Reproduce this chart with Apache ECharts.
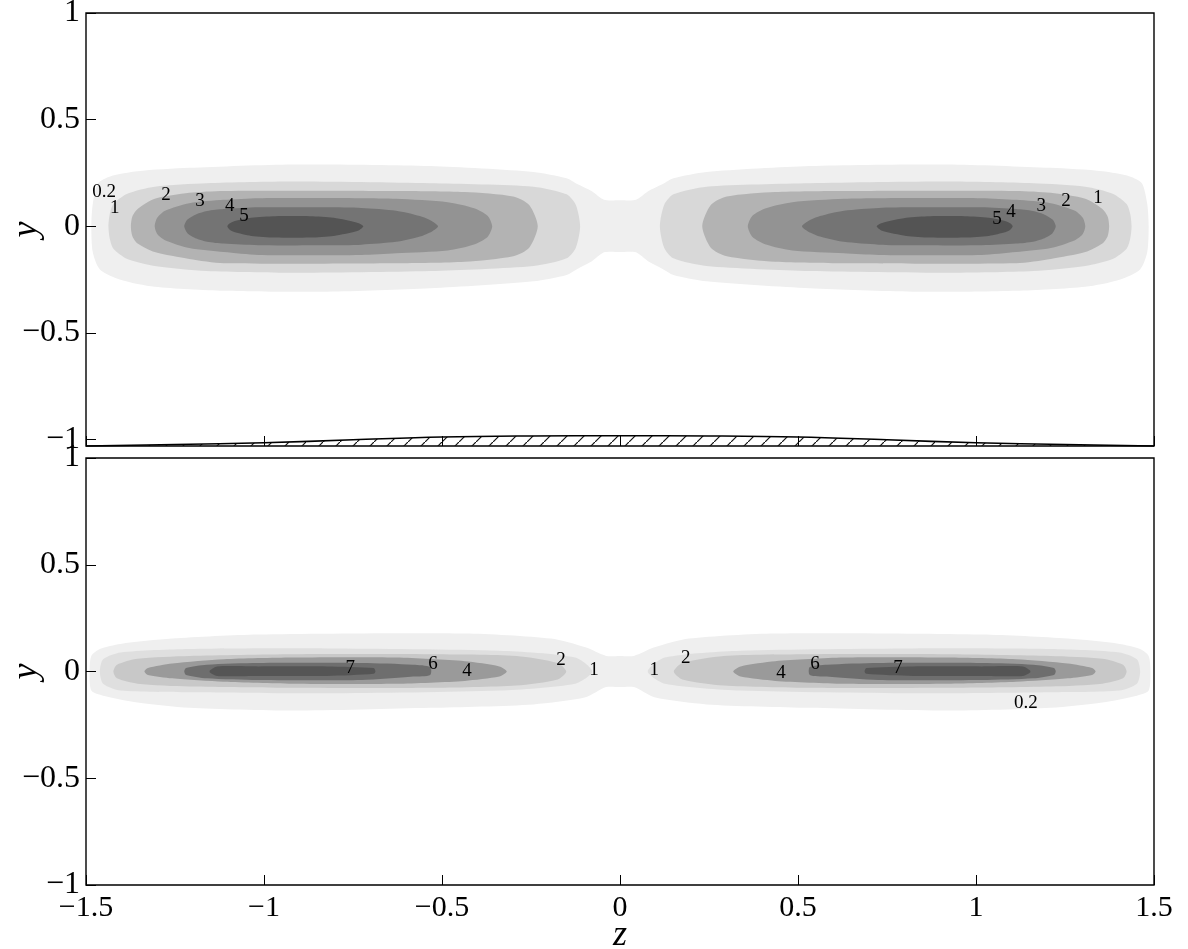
<!DOCTYPE html>
<html>
<head>
<meta charset="utf-8">
<script src="https://cdn.jsdelivr.net/npm/echarts@6/dist/echarts.min.js"></script>
<style>
  html, body { margin: 0; padding: 0; background: #fff; }
  #chart { width: 1188px; height: 949px; }
</style>
</head>
<body>
<div id="chart"></div>
<script>
// axes
const zTicks = [-1.5, -1, -0.5, 0, 0.5, 1, 1.5];
const yTicks = [-1, -0.5, 0, 0.5, 1];

// top panel: contour levels and fills; outlines of the left half [z, y] (picture is mirror symmetric in z)
const topLevels = ['0.2', '1', '2', '3', '4', '5'];
const topFills = ['#efefef', '#d8d8d8', '#b3b3b3', '#939393', '#747474', '#545454'];
const topUpper = [
  [[-1.485, 0], [-1.481, 0.105], [-1.466, 0.202], [-1.432, 0.234], [-1.355, 0.258], [-1.210, 0.274], [-0.920, 0.290], [-0.533, 0.283], [-0.243, 0.255], [-0.150, 0.225], [-0.120, 0.198], [-0.080, 0.165], [-0.045, 0.124], [0, 0.122]],
  [[-1.437, 0], [-1.433, 0.060], [-1.423, 0.105], [-1.384, 0.153], [-1.307, 0.186], [-1.161, 0.202], [-0.920, 0.210], [-0.533, 0.202], [-0.243, 0.186], [-0.150, 0.150], [-0.124, 0.100], [-0.112, 0]],
  [[-1.374, 0], [-1.370, 0.045], [-1.355, 0.081], [-1.307, 0.129], [-1.210, 0.157], [-1.113, 0.166], [-0.629, 0.166], [-0.436, 0.161], [-0.300, 0.140], [-0.255, 0.100], [-0.231, 0]],
  [[-1.307, 0], [-1.300, 0.040], [-1.278, 0.073], [-1.210, 0.108], [-1.113, 0.124], [-1.016, 0.132], [-0.726, 0.132], [-0.629, 0.129], [-0.484, 0.113], [-0.410, 0.085], [-0.372, 0.050], [-0.359, 0]],
  [[-1.224, 0], [-1.215, 0.032], [-1.190, 0.057], [-1.160, 0.072], [-1.113, 0.081], [-1.016, 0.089], [-0.823, 0.089], [-0.726, 0.086], [-0.629, 0.073], [-0.562, 0.048], [-0.528, 0.024], [-0.511, 0]],
  [[-1.103, 0], [-1.097, 0.013], [-1.084, 0.024], [-1.036, 0.040], [-0.968, 0.047], [-0.871, 0.047], [-0.804, 0.040], [-0.736, 0.016], [-0.721, 0]]
];
const topLower = [
  [[-1.485, 0], [-1.481, -0.121], [-1.461, -0.202], [-1.403, -0.250], [-1.307, -0.283], [-1.113, -0.302], [-0.823, -0.307], [-0.533, -0.291], [-0.243, -0.258], [-0.150, -0.228], [-0.120, -0.200], [-0.080, -0.165], [-0.045, -0.122], [0, -0.120]],
  [[-1.437, 0], [-1.433, -0.060], [-1.423, -0.105], [-1.384, -0.153], [-1.307, -0.186], [-1.161, -0.210], [-0.920, -0.218], [-0.533, -0.210], [-0.243, -0.186], [-0.150, -0.150], [-0.124, -0.100], [-0.112, 0]],
  [[-1.374, 0], [-1.370, -0.045], [-1.355, -0.081], [-1.307, -0.121], [-1.210, -0.153], [-1.113, -0.173], [-0.629, -0.173], [-0.436, -0.166], [-0.300, -0.140], [-0.255, -0.100], [-0.231, 0]],
  [[-1.307, 0], [-1.300, -0.036], [-1.278, -0.065], [-1.210, -0.102], [-1.113, -0.121], [-1.016, -0.134], [-0.726, -0.134], [-0.629, -0.126], [-0.484, -0.113], [-0.410, -0.085], [-0.372, -0.050], [-0.359, 0]],
  [[-1.224, 0], [-1.215, -0.032], [-1.190, -0.057], [-1.160, -0.072], [-1.113, -0.081], [-1.016, -0.089], [-0.823, -0.089], [-0.726, -0.086], [-0.629, -0.073], [-0.562, -0.048], [-0.528, -0.024], [-0.511, 0]],
  [[-1.103, 0], [-1.097, -0.015], [-1.084, -0.027], [-1.036, -0.045], [-0.968, -0.053], [-0.871, -0.053], [-0.804, -0.045], [-0.736, -0.021], [-0.721, 0]]
];
const topLabelText = ['0.2', '1', '2', '3', '4', '5', '5', '4', '3', '2', '1'];
const topLabelZ = [-1.449, -1.419, -1.275, -1.180, -1.096, -1.056, 1.059, 1.098, 1.183, 1.253, 1.343];
const topLabelY = [0.159, 0.084, 0.145, 0.117, 0.094, 0.047, 0.033, 0.066, 0.094, 0.117, 0.131];

// wall bump at the bottom of the top panel
const wallZ = [-1.5, -1.25, -1, -0.75, -0.5, -0.25, 0, 0.25, 0.5, 0.75, 1, 1.25, 1.5];
const wallY = [-1.03, -1.023, -1.015, -1.001, -0.988, -0.983, -0.982, -0.983, -0.988, -1.001, -1.015, -1.023, -1.03];
const wallBase = -1.03;

// bottom panel
const botLevels = ['0.2', '1', '2', '4', '6', '7'];
const botFills = ['#efefef', '#dfdfdf', '#c8c8c8', '#9a9a9a', '#6e6e6e', '#555555'];
const botUpper = [
  [[-1.490, 0], [-1.485, 0.073], [-1.461, 0.105], [-1.403, 0.129], [-1.258, 0.154], [-1.016, 0.173], [-0.436, 0.178], [-0.194, 0.154], [-0.097, 0.113], [-0.039, 0.073], [0, 0.073]],
  [[-1.461, 0], [-1.452, 0.057], [-1.403, 0.089], [-1.210, 0.105], [-0.823, 0.108], [-0.339, 0.097], [-0.126, 0.065], [-0.078, 0]],
  [[-1.423, 0], [-1.413, 0.032], [-1.355, 0.060], [-1.210, 0.073], [-0.920, 0.081], [-0.533, 0.081], [-0.291, 0.073], [-0.175, 0.040], [-0.151, 0]],
  [[-1.336, 0], [-1.326, 0.016], [-1.258, 0.037], [-1.113, 0.057], [-0.920, 0.065], [-0.629, 0.065], [-0.436, 0.048], [-0.339, 0.024], [-0.318, 0]],
  [[-1.224, 0], [-1.219, 0.016], [-1.161, 0.032], [-1.016, 0.040], [-0.726, 0.040], [-0.581, 0.032], [-0.533, 0.021]],
  [[-1.152, 0.005], [-1.132, 0.024], [-1.016, 0.024], [-0.823, 0.024], [-0.692, 0.016], [-0.687, 0]]
];
const botLower = [
  [[-1.490, 0], [-1.485, -0.089], [-1.452, -0.113], [-1.355, -0.145], [-1.210, -0.170], [-0.920, -0.183], [-0.533, -0.170], [-0.243, -0.154], [-0.097, -0.121], [-0.039, -0.073], [0, -0.073]],
  [[-1.461, 0], [-1.452, -0.057], [-1.403, -0.089], [-1.210, -0.097], [-0.823, -0.102], [-0.339, -0.089], [-0.126, -0.057], [-0.078, 0]],
  [[-1.423, 0], [-1.413, -0.032], [-1.355, -0.057], [-1.210, -0.070], [-0.920, -0.076], [-0.533, -0.076], [-0.291, -0.065], [-0.175, -0.037], [-0.151, 0]],
  [[-1.336, 0], [-1.326, -0.016], [-1.258, -0.032], [-1.113, -0.048], [-0.920, -0.057], [-0.629, -0.057], [-0.436, -0.044], [-0.339, -0.024], [-0.318, 0]],
  [[-1.224, 0], [-1.219, -0.016], [-1.161, -0.032], [-1.016, -0.040], [-0.726, -0.040], [-0.581, -0.024], [-0.533, -0.016]],
  [[-1.152, -0.005], [-1.132, -0.021], [-1.016, -0.021], [-0.823, -0.021], [-0.692, -0.011], [-0.687, 0]]
];
const botLabelText = ['7', '6', '4', '2', '1', '1', '2', '4', '6', '7', '0.2'];
const botLabelZ = [-0.758, -0.525, -0.430, -0.166, -0.073, 0.096, 0.185, 0.452, 0.548, 0.781, 1.140];
const botLabelY = [0.014, 0.033, 0, 0.056, 0.009, 0.009, 0.061, -0.005, 0.033, 0.014, -0.146];

const FONT = '"Liberation Serif", "Times New Roman", serif';
const minus = v => (v < 0 ? '\u2212' : '') + Math.abs(v);

const neg = p => [-p[0], p[1]];
function dedupe(pts) {
  const out = [];
  pts.forEach(p => {
    const q = out[out.length - 1];
    if (!q || Math.abs(q[0] - p[0]) > 1e-9 || Math.abs(q[1] - p[1]) > 1e-9) out.push(p);
  });
  const a = out[0], b = out[out.length - 1];
  if (out.length > 1 && a[0] === b[0] && a[1] === b[1]) out.pop();
  return out;
}
// rings (in data units) for one contour level
function rings(up, lo) {
  const joined = up[up.length - 1][0] === 0;
  if (joined) {
    return [dedupe([...up, ...up.slice().reverse().map(neg), ...lo.map(neg), ...lo.slice().reverse()])];
  }
  const left = dedupe([...up, ...lo.slice().reverse()]);
  return [left, left.map(neg)];
}

function fillSeries(gridIdx, upper, lower, fills) {
  return {
    type: 'custom',
    xAxisIndex: gridIdx,
    yAxisIndex: gridIdx,
    silent: true,
    z: 2,
    data: fills.map(() => [0, 0]),
    renderItem: (params, api) => {
      const i = params.dataIndex;
      return {
        type: 'group',
        children: rings(upper[i], lower[i]).map(r => ({
          type: 'polygon',
          shape: { points: r.map(p => api.coord(p)), smooth: 0.25 },
          style: { fill: fills[i], stroke: null }
        }))
      };
    }
  };
}

function labelSeries(gridIdx, zs, ys, texts) {
  return {
    type: 'custom',
    xAxisIndex: gridIdx,
    yAxisIndex: gridIdx,
    silent: true,
    z: 4,
    data: zs.map((z, i) => [z, ys[i]]),
    renderItem: (params, api) => {
      const c = api.coord([api.value(0), api.value(1)]);
      return {
        type: 'text',
        x: c[0], y: c[1],
        style: {
          text: texts[params.dataIndex],
          font: '19px ' + FONT,
          fill: '#000',
          align: 'center',
          verticalAlign: 'middle'
        }
      };
    }
  };
}

// hatch pattern for the wall
const hatch = document.createElement('canvas');
hatch.width = 17; hatch.height = 17;
const hc = hatch.getContext('2d');
hc.strokeStyle = '#111';
hc.lineWidth = 1.2;
hc.beginPath();
hc.moveTo(0, 17); hc.lineTo(17, 0);
hc.stroke();

const wallSeries = {
  type: 'custom',
  xAxisIndex: 0,
  yAxisIndex: 0,
  silent: true,
  z: 3,
  data: [[0, 0]],
  renderItem: (params, api) => {
    const top = wallZ.map((z, i) => api.coord([z, wallY[i]]));
    const poly = top.concat([api.coord([wallZ[wallZ.length - 1], wallBase]), api.coord([wallZ[0], wallBase])]);
    return {
      type: 'group',
      children: [
        { type: 'polygon', shape: { points: poly }, style: { fill: { type: 'pattern', image: hatch, repeat: 'repeat' }, stroke: null } },
        { type: 'polyline', shape: { points: top, smooth: 0.4 }, style: { fill: null, stroke: '#000', lineWidth: 1.6 } }
      ]
    };
  }
};

const tickStyle = { inside: true, length: 10, lineStyle: { color: '#000', width: 1 } };
const noLine = { show: false, onZero: false };
const nameFont = { color: '#000', fontFamily: FONT, fontStyle: 'italic', fontSize: 36 };

const chart = echarts.init(document.getElementById('chart'), null, { renderer: 'canvas' });
chart.setOption({
  backgroundColor: '#fff',
  animation: false,
  grid: [
    { left: 86, top: 13, width: 1068, height: 433, show: true, borderColor: '#000', borderWidth: 1.4, backgroundColor: 'transparent', outerBoundsMode: 'none', containLabel: false },
    { left: 86, top: 458, width: 1068, height: 427, show: true, borderColor: '#000', borderWidth: 1.4, backgroundColor: 'transparent', outerBoundsMode: 'none', containLabel: false }
  ],
  xAxis: [
    {
      gridIndex: 0, type: 'value', min: -1.5, max: 1.5, interval: 0.5, z: 5,
      axisLine: noLine, axisTick: tickStyle, axisLabel: { show: false }, splitLine: { show: false }
    },
    {
      gridIndex: 1, type: 'value', min: -1.5, max: 1.5, interval: 0.5, z: 5,
      axisLine: noLine, axisTick: tickStyle, splitLine: { show: false },
      axisLabel: { color: '#000', fontFamily: FONT, fontSize: 30, margin: 8, formatter: minus, showMinLabel: true, showMaxLabel: true },
      name: 'z', nameLocation: 'middle', nameGap: 33, nameMoveOverlap: false,
      nameTextStyle: nameFont
    }
  ],
  yAxis: [
    {
      gridIndex: 0, type: 'value', min: -1.03, max: 1, z: 5,
      axisLine: noLine, splitLine: { show: false },
      axisTick: Object.assign({ customValues: yTicks }, tickStyle),
      axisLabel: { customValues: yTicks, color: '#000', fontFamily: FONT, fontSize: 32, margin: 6, formatter: minus },
      name: 'y', nameLocation: 'middle', nameGap: 41, nameRotate: 90, nameMoveOverlap: false,
      nameTextStyle: nameFont
    },
    {
      gridIndex: 1, type: 'value', min: -1, max: 1, interval: 0.5, z: 5,
      axisLine: noLine, splitLine: { show: false },
      axisTick: tickStyle,
      axisLabel: { color: '#000', fontFamily: FONT, fontSize: 32, margin: 6, formatter: minus, showMinLabel: true, showMaxLabel: true },
      name: 'y', nameLocation: 'middle', nameGap: 41, nameRotate: 90, nameMoveOverlap: false,
      nameTextStyle: nameFont
    }
  ],
  series: [
    fillSeries(0, topUpper, topLower, topFills),
    wallSeries,
    labelSeries(0, topLabelZ, topLabelY, topLabelText),
    fillSeries(1, botUpper, botLower, botFills),
    labelSeries(1, botLabelZ, botLabelY, botLabelText)
  ]
});
</script>
</body>
</html>
